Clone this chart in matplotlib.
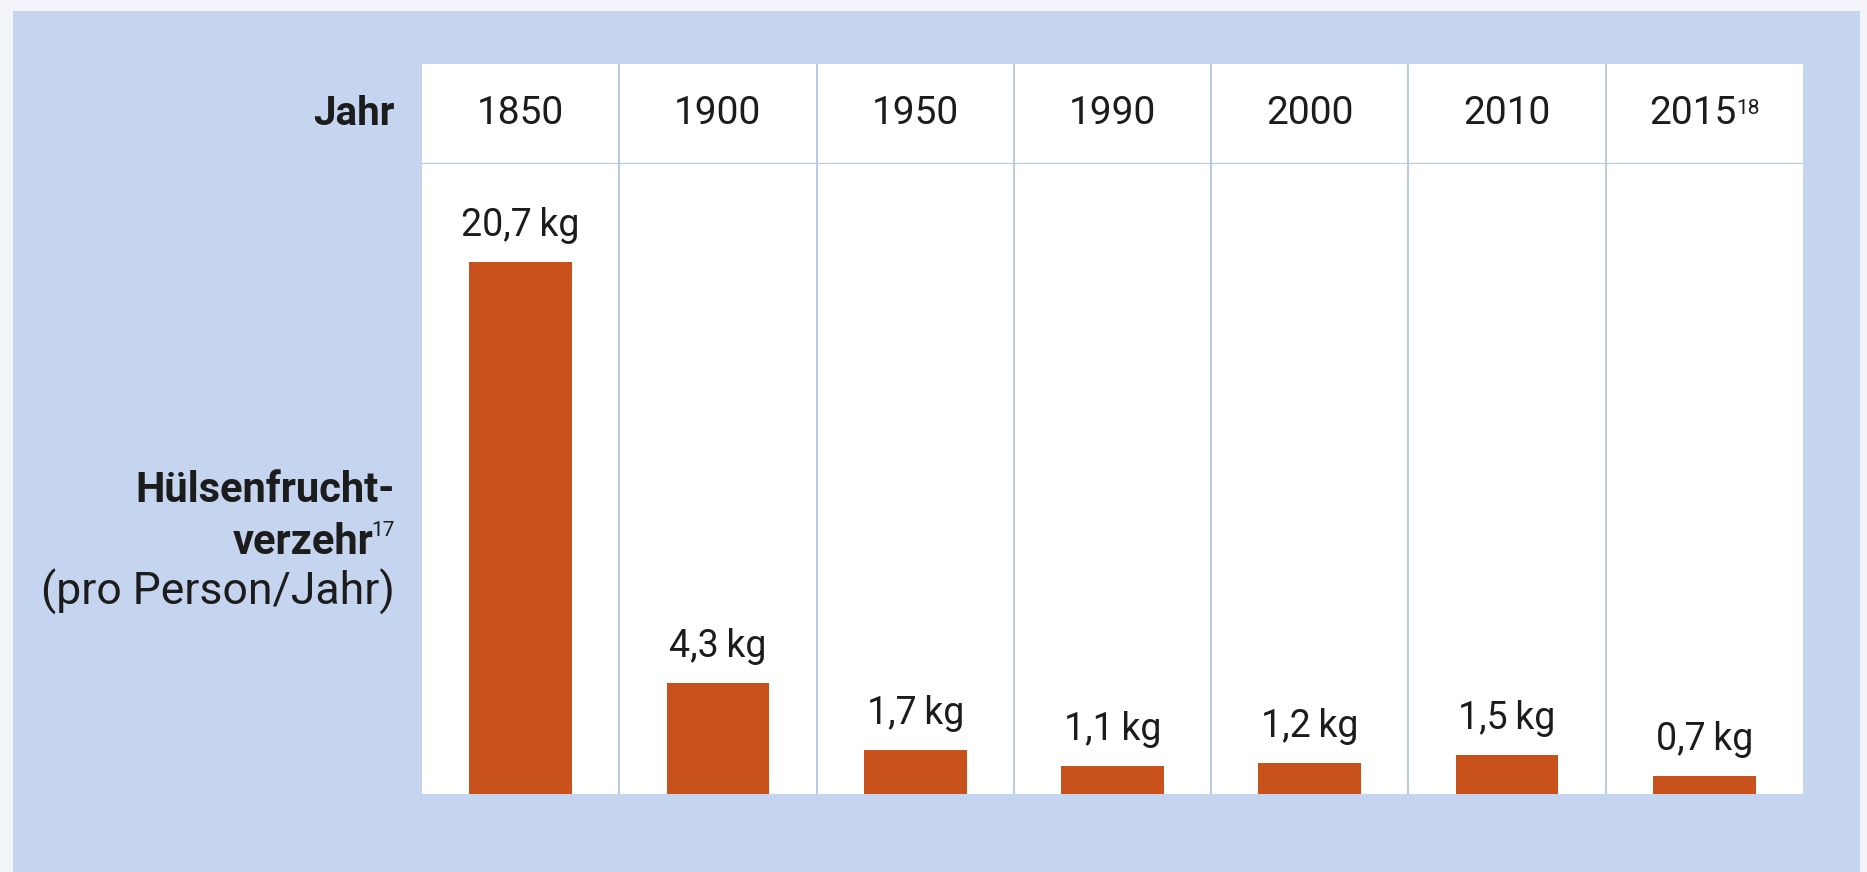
import matplotlib
matplotlib.use("Agg")
import matplotlib.pyplot as plt
from matplotlib.patches import Rectangle
from matplotlib import transforms

plt.rcParams['font.family'] = ['Roboto', 'DejaVu Sans']

# ---- data ----
years = ["1850", "1900", "1950", "1990", "2000", "2010", "2015"]
year_sup = ["", "", "", "", "", "", "18"]
values = [20.7, 4.3, 1.7, 1.1, 1.2, 1.5, 0.7]
value_labels = ["20,7\u2009kg", "4,3\u2009kg", "1,7\u2009kg", "1,1\u2009kg",
                "1,2\u2009kg", "1,5\u2009kg", "0,7\u2009kg"]
row_header = "Jahr"
ylabel_bold = ["Hülsenfrucht-", "verzehr"]
ylabel_sup = "17"
ylabel_sub = "(pro Person/Jahr)"

W, H = 1867, 872
fig = plt.figure(figsize=(W / 100, H / 100), dpi=100)
fig.patch.set_facecolor("#f3f5fa")

BG = "#c6d5ef"
BAR = "#c9511c"
SEP = "#b8c9e6"
TXT = "#1c1c1c"

# blue page background
fig.patches.append(Rectangle((13 / W, 0), (1860 - 13) / W, (872 - 11) / H,
                             transform=fig.transFigure, facecolor=BG,
                             edgecolor="none", zorder=-10))

px_l, px_r = 422, 1803
py_top, py_head, py_bot = 64, 164, 794

def fr(x0, y0, x1, y1):
    return [x0 / W, (H - y1) / H, (x1 - x0) / W, (y1 - y0) / H]

ax = fig.add_axes(fr(px_l, py_head, px_r, py_bot))
axh = fig.add_axes(fr(px_l, py_top, px_r, py_head))

n = len(years)
for a in (ax, axh):
    a.set_facecolor("white")
    a.set_xlim(-0.5, n - 0.5)
    for s in a.spines.values():
        s.set_visible(False)
    a.set_xticks([])
    a.set_yticks([])
    for k in range(n - 1):
        a.axvline(k + 0.5, color=SEP, lw=1.4, zorder=1)

ax.set_ylim(0, 24.5)
axh.set_ylim(0, 1)
axh.axhline(0, color=SEP, lw=1.6, zorder=2)

x = list(range(n))
ax.bar(x, values, width=0.52, color=BAR, zorder=3)

for xi, v, lab in zip(x, values, value_labels):
    ax.annotate(lab, (xi, v), xytext=(0, 13), textcoords="offset points",
                ha="center", va="bottom", fontsize=27, color=TXT)

fig.canvas.draw()
r = fig.canvas.get_renderer()

# year header
for xi, yr, sup in zip(x, years, year_sup):
    if sup:
        t2 = fig.text(0, 0, sup, fontsize=15, color=TXT)
        w2 = t2.get_window_extent(r).width
        t2.remove()
        t = axh.text(xi, 0.5, yr, ha="center", va="center", fontsize=28, color=TXT,
                     transform=transforms.offset_copy(axh.transData, fig=fig, x=-w2 / 2, y=0, units="dots"))
        fig.canvas.draw()
        bb = t.get_window_extent(r)
        fig.text(bb.x1 / W, (bb.y1 - 4) / H, sup, fontsize=15, color=TXT,
                 ha="left", va="top")
    else:
        axh.text(xi, 0.5, yr, ha="center", va="center", fontsize=28, color=TXT)

# row header
right_x = 395 / W
fig.text(right_x, 1 - 114 / H, row_header, ha="right", va="center",
         fontsize=29, fontweight="bold", color=TXT)

fig.text(right_x, 1 - 490 / H, ylabel_bold[0], ha="right", va="center",
         fontsize=30, fontweight="bold", color=TXT)
ts = fig.text(right_x, 1 - 530 / H, ylabel_sup, ha="right", va="center",
              fontsize=15, color=TXT)
fig.canvas.draw()
wsup = ts.get_window_extent(r).width
fig.text(right_x - (wsup - 2) / W, 1 - 542 / H, ylabel_bold[1], ha="right", va="center",
         fontsize=30, fontweight="bold", color=TXT)
fig.text(right_x, 1 - 592 / H, ylabel_sub, ha="right", va="center",
         fontsize=32, color=TXT)

fig.savefig("out.png", dpi=100, facecolor=fig.get_facecolor())
